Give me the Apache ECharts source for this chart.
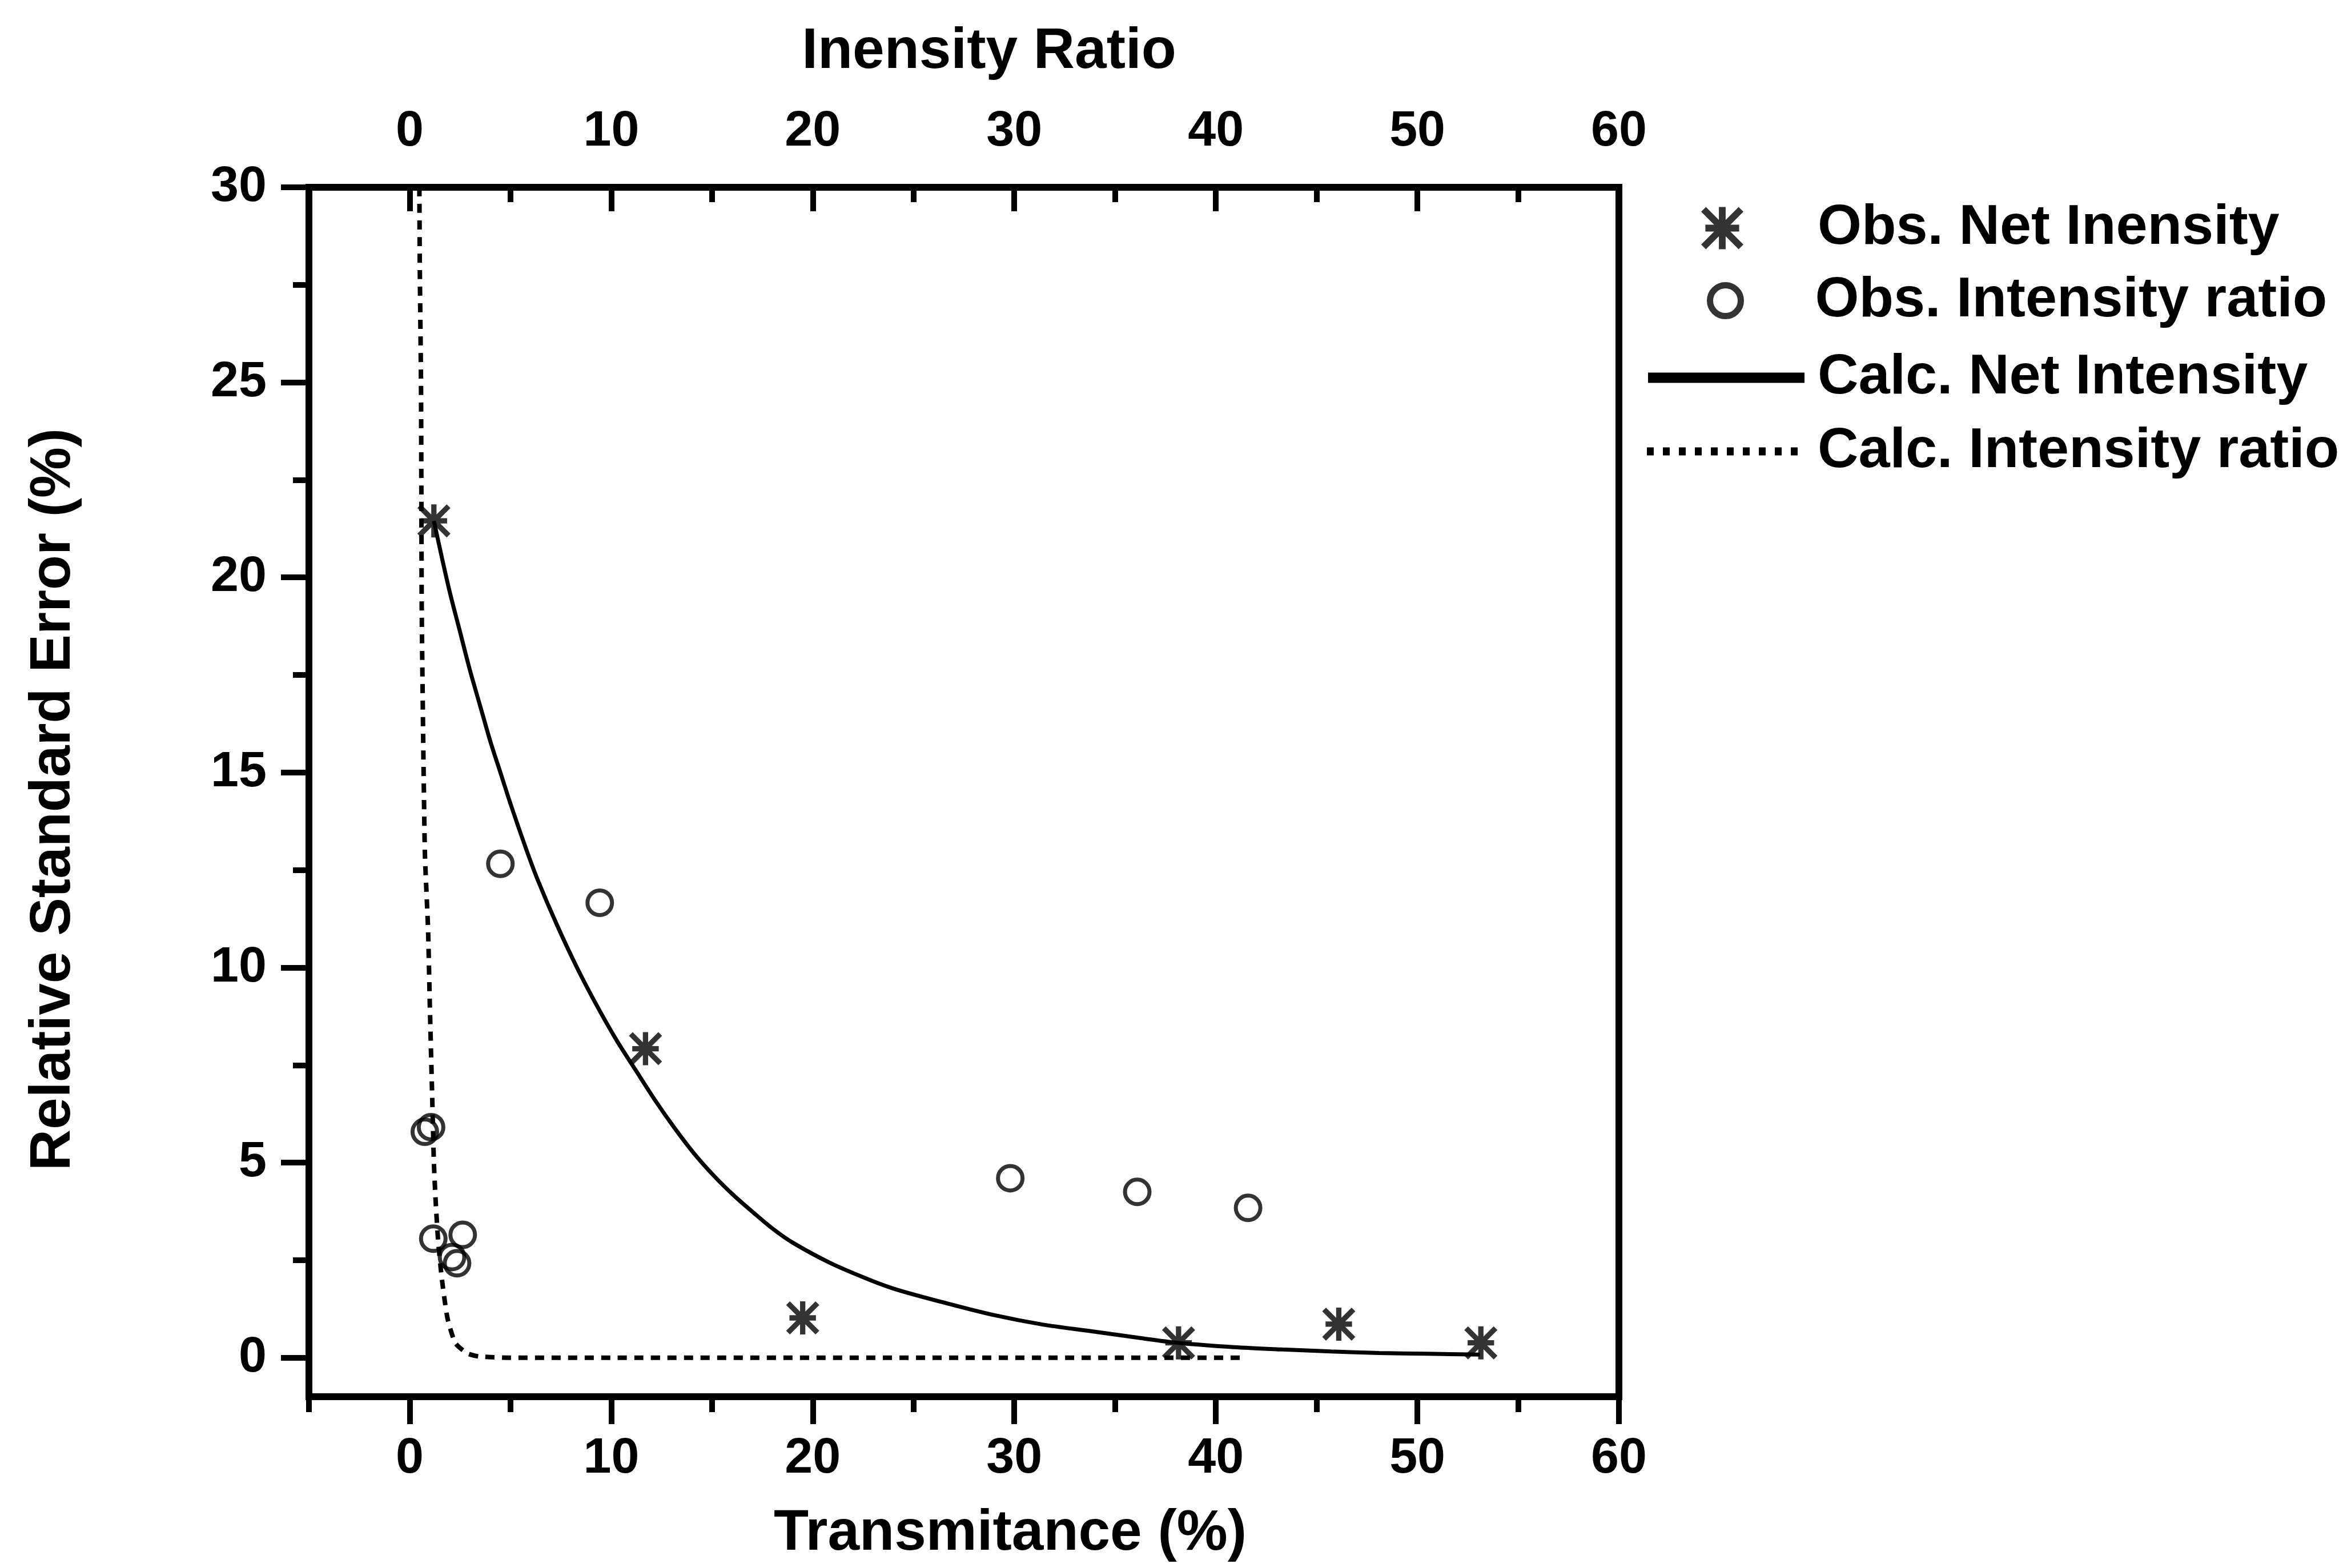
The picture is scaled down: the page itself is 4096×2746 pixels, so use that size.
<!DOCTYPE html>
<html>
<head>
<meta charset="utf-8">
<script src="https://cdn.jsdelivr.net/npm/echarts@6/dist/echarts.min.js"></script>
<style>
html,body{margin:0;padding:0;background:#fff;}
#chart{width:4096px;height:2746px;}
</style>
</head>
<body>
<div id="chart"></div>
<script>
// ---- data ----
const xMajorTicks = [0, 10, 20, 30, 40, 50, 60];
const xMinorTicks = [-5, 5, 15, 25, 35, 45, 55];
const yMajorTicks = [0, 5, 10, 15, 20, 25, 30];
const yMinorTicks = [2.5, 7.5, 12.5, 17.5, 22.5, 27.5];

const obsNetX = [1.2, 11.7, 19.5, 38.15, 46.1, 53.15];
const obsNetY = [21.45, 7.92, 1.02, 0.38, 0.86, 0.38];

const obsRatioX = [4.5, 9.43, 0.75, 1.06, 1.17, 2.63, 2.1, 2.35, 29.8, 36.1, 41.6];
const obsRatioY = [12.66, 11.66, 5.79, 5.91, 3.05, 3.15, 2.58, 2.42, 4.6, 4.25, 3.84];

const calcNetX = [1.2, 1.6, 2.0, 2.5, 3.0, 3.5, 4.0, 4.5, 5.0, 5.77, 6.35, 7.3, 8.3, 9.26, 10.25, 11.2, 12.2, 13.15, 14.1, 15.1, 16.1, 17.05, 18.0, 19.0, 20.9, 22.9, 24.2, 26.6, 29.0, 31.4, 33.8, 36.15, 38.15, 40.9, 43.3, 45.7, 48.1, 50.5, 53.1];
const calcNetY = [21.45, 20.5, 19.6, 18.6, 17.6, 16.7, 15.8, 15.0, 14.2, 13.05, 12.25, 11.1, 10.0, 9.05, 8.15, 7.38, 6.58, 5.88, 5.24, 4.66, 4.15, 3.72, 3.31, 2.95, 2.42, 1.98, 1.74, 1.4, 1.09, 0.85, 0.68, 0.51, 0.38, 0.27, 0.21, 0.16, 0.12, 0.1, 0.08];

const calcRatioX = [0.48, 0.5, 0.56, 0.58, 0.6, 0.75, 0.91, 1.0, 1.1, 1.15, 1.2, 1.29, 1.41, 1.6, 1.88, 2.27, 2.86, 3.45, 5.0, 41.5];
const calcRatioY = [30, 28, 25, 22, 19, 13, 11, 9, 7, 6, 5, 4, 3, 2, 1, 0.37, 0.11, 0.03, 0, 0];

const names = ['Obs. Net Inensity', 'Obs. Intensity ratio', 'Calc. Net Intensity', 'Calc. Intensity ratio'];
const xTitle = 'Transmitance (%)';
const x2Title = 'Inensity Ratio';
const yTitle = 'Relative Standard Error (%)';

// ---- presentation ----
const FONT = "'Liberation Sans', Arial, Helvetica, sans-serif";
const BLACK = '#000';
const ASTERISK = 'path://M42 0L58 0L58 100L42 100Z M10 42L90 42L90 58L10 58Z ' +
  'M0 11.3L11.3 0L100 88.7L88.7 100Z M88.7 0L100 11.3L11.3 100L0 88.7Z';

const zip = (a, b) => a.map((v, i) => [v, b[i]]);
const labelStyle = {fontSize: 88, fontFamily: FONT, fontWeight: 'bold', color: BLACK};
const nameStyle = {fontSize: 100, fontFamily: FONT, fontWeight: 'bold', color: BLACK};
const legendText = {fontSize: 99, fontFamily: FONT, fontWeight: 'bold', color: BLACK};
const lineW = 12, tickW = 10;
const solidLine = {show: true, onZero: false, lineStyle: {color: BLACK, width: lineW, cap: 'square'}};
const xr = [-5, 60], yr = [-1, 30];

// an axis that only carries ticks (major or minor) at given values
function tickAxis(pos, vals, len, inside, range) {
  const tick = {show: true, customValues: vals, length: len, lineStyle: {color: BLACK, width: tickW}};
  if (inside) tick.inside = true;
  return {
    type: 'value', min: range[0], max: range[1], position: pos,
    splitLine: {show: false}, axisLine: {show: false, onZero: false}, axisLabel: {show: false},
    axisTick: tick
  };
}

const chart = echarts.init(document.getElementById('chart'), null, {renderer: 'canvas'});
const option = {
  backgroundColor: '#fff',
  animation: false,
  grid: {left: 541, top: 328, width: 2294, height: 2118, outerBoundsMode: 'none'},
  xAxis: [
    {
      type: 'value', min: xr[0], max: xr[1], position: 'bottom',
      splitLine: {show: false}, axisLine: solidLine, axisTick: {show: false},
      axisLabel: {show: true, customValues: xMajorTicks, margin: 65, ...labelStyle},
      name: xTitle, nameLocation: 'middle', nameGap: 190,
      nameTextStyle: Object.assign({padding: [0, 0, 0, 162]}, nameStyle)
    },
    {
      type: 'value', min: xr[0], max: xr[1], position: 'top',
      splitLine: {show: false}, axisLine: solidLine, axisTick: {show: false},
      axisLabel: {show: true, customValues: xMajorTicks, margin: 53, ...labelStyle},
      name: x2Title, nameLocation: 'middle', nameGap: 187,
      nameTextStyle: Object.assign({padding: [0, 0, 0, 88]}, nameStyle)
    },
    tickAxis('bottom', xMajorTicks, 48, false, xr),
    tickAxis('bottom', xMinorTicks, 27, false, xr),
    tickAxis('top', xMajorTicks, 42, true, xr),
    tickAxis('top', xMinorTicks.filter(v => v > 0), 26, true, xr)
  ],
  yAxis: [
    {
      type: 'value', min: yr[0], max: yr[1], position: 'left',
      splitLine: {show: false}, axisLine: solidLine, axisTick: {show: false},
      axisLabel: {show: true, customValues: yMajorTicks, margin: 74, ...labelStyle},
      name: yTitle, nameLocation: 'middle', nameGap: 397,
      nameTextStyle: Object.assign({padding: [0, 26, 0, 0]}, nameStyle)
    },
    {
      type: 'value', min: yr[0], max: yr[1], position: 'right',
      splitLine: {show: false}, axisLabel: {show: false}, axisTick: {show: false},
      axisLine: solidLine
    },
    tickAxis('left', yMajorTicks, 49, false, yr),
    tickAxis('left', yMinorTicks, 28, false, yr)
  ],
  legend: [
    {data: [names[0]], left: 2979, top: 350, padding: 0, itemWidth: 74, itemHeight: 74, selectedMode: false,
     itemStyle: {color: BLACK, borderWidth: 0},
     textStyle: Object.assign({padding: [0, 0, 0, 125]}, legendText)},
    {data: [names[1]], left: 2989, top: 477, padding: 0, itemWidth: 54, itemHeight: 54, selectedMode: false,
     itemStyle: {color: 'rgba(0,0,0,0)', borderColor: BLACK, borderWidth: 11},
     textStyle: Object.assign({padding: [0, 0, 0, 125]}, legendText)},
    {data: [names[2]], left: 2877, top: 612, padding: 0, itemWidth: 274, itemHeight: 20, selectedMode: false,
     itemStyle: {color: 'rgba(0,0,0,0)', borderWidth: 0},
     lineStyle: {color: BLACK, width: 18, type: 'solid'},
     textStyle: Object.assign({padding: [0, 0, 0, 18]}, legendText)},
    {data: [names[3]], left: 2877, top: 741, padding: 0, itemWidth: 274, itemHeight: 20, selectedMode: false,
     itemStyle: {color: 'rgba(0,0,0,0)', borderWidth: 0},
     lineStyle: {color: BLACK, width: 14, type: [12, 16]},
     textStyle: Object.assign({padding: [0, 0, 0, 20]}, legendText)}
  ],
  series: [
    {
      type: 'line', name: names[2], xAxisIndex: 0, yAxisIndex: 0,
      data: zip(calcNetX, calcNetY), symbol: 'none', smooth: 0.3,
      lineStyle: {color: BLACK, width: 7}, itemStyle: {color: BLACK}, z: 2
    },
    {
      type: 'line', name: names[3], xAxisIndex: 0, yAxisIndex: 0,
      data: zip(calcRatioX, calcRatioY), symbol: 'none', smooth: 0.2,
      lineStyle: {color: BLACK, width: 8, type: [16, 13]}, itemStyle: {color: BLACK}, z: 2
    },
    {
      type: 'scatter', name: names[0], xAxisIndex: 0, yAxisIndex: 0,
      data: zip(obsNetX, obsNetY), symbol: ASTERISK, symbolSize: 58,
      itemStyle: {color: BLACK}, z: 3
    },
    {
      type: 'scatter', name: names[1], xAxisIndex: 0, yAxisIndex: 0,
      data: zip(obsRatioX, obsRatioY), symbol: 'circle', symbolSize: 43,
      itemStyle: {color: 'rgba(0,0,0,0)', borderColor: BLACK, borderWidth: 7}, z: 3
    }
  ]
};
chart.setOption(option);
</script>
</body>
</html>
